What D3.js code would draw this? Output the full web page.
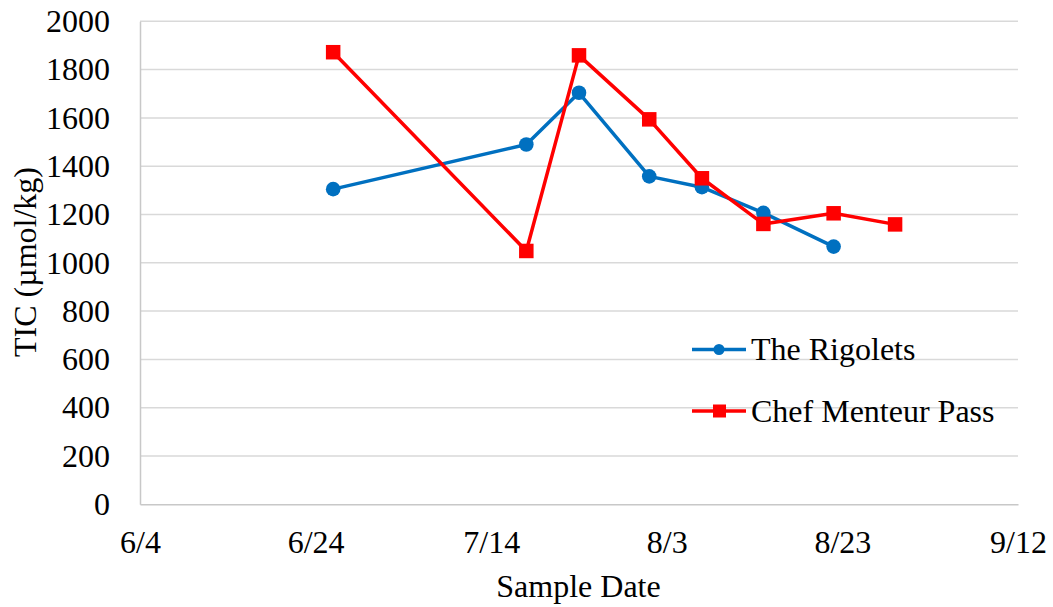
<!DOCTYPE html>
<html>
<head>
<meta charset="utf-8">
<script src="https://cdn.jsdelivr.net/npm/d3@7"></script>
<style>
  html, body { margin: 0; padding: 0; background: #fff; }
  svg, svg text { font-family: "Liberation Serif", "Times New Roman", serif; }
</style>
</head>
<body>
<svg id="chart" width="1053" height="607"></svg>
<script>
// Sample dates (2010) and TIC values, µmol/kg
const rigoletsDates = ["2010-06-26", "2010-07-18", "2010-07-24", "2010-08-01", "2010-08-07", "2010-08-14", "2010-08-22"];
const rigoletsTIC   = [1305, 1490, 1704, 1358, 1313, 1207, 1067];

const chefDates = ["2010-06-26", "2010-07-18", "2010-07-24", "2010-08-01", "2010-08-07", "2010-08-14", "2010-08-22", "2010-08-29"];
const chefTIC   = [1872, 1049, 1859, 1594, 1350, 1161, 1205, 1159];

const seriesNames = ["The Rigolets", "Chef Menteur Pass"];
const xTickDates = ["2010-06-04", "2010-06-24", "2010-07-14", "2010-08-03", "2010-08-23", "2010-09-12"];
const yTicks = [0, 200, 400, 600, 800, 1000, 1200, 1400, 1600, 1800, 2000];

const parse = d3.utcParse("%Y-%m-%d");
const fmt = d3.utcFormat("%-m/%-d");

const margin = { left: 140, right: 35, top: 21.3, bottom: 102.7 };
const W = 1053, H = 607;
const svg = d3.select("#chart");
const SERIF = '"Liberation Serif", "Times New Roman", serif';

const x = d3.scaleUtc()
  .domain([parse(xTickDates[0]), parse(xTickDates[xTickDates.length - 1])])
  .range([margin.left, W - margin.right]);
const y = d3.scaleLinear().domain([0, 2000]).range([H - margin.bottom, margin.top]);

const FS = 32;

// horizontal gridlines
svg.append("g")
  .selectAll("line")
  .data(yTicks.filter(v => v > 0))
  .join("line")
  .attr("x1", x.range()[0]).attr("x2", x.range()[1])
  .attr("y1", d => y(d)).attr("y2", d => y(d))
  .attr("stroke", "#d9d9d9").attr("stroke-width", 1.5);

// y axis
const yAxis = svg.append("g")
  .attr("transform", `translate(${margin.left},0)`)
  .call(d3.axisLeft(y).tickValues(yTicks).tickFormat(d3.format("d")).tickSize(0).tickPadding(30));
yAxis.style("font-family", SERIF).style("font-size", FS + "px");
yAxis.select(".domain").attr("stroke", "#c8c8c8").attr("stroke-width", 1.5);
yAxis.selectAll("text").attr("fill", "#000");

// x axis
const xAxis = svg.append("g")
  .attr("transform", `translate(0,${y(0)})`)
  .call(d3.axisBottom(x).tickValues(xTickDates.map(parse)).tickFormat(fmt).tickSize(0).tickPadding(26));
xAxis.style("font-family", SERIF).style("font-size", FS + "px");
xAxis.select(".domain").attr("stroke", "#c8c8c8").attr("stroke-width", 1.5);
xAxis.selectAll("text").attr("fill", "#000");

// axis titles
svg.append("text")
  .attr("x", 578.5).attr("y", 596.5)
  .attr("text-anchor", "middle").style("font-size", FS + "px")
  .text("Sample Date");
svg.append("text")
  .attr("transform", `translate(36,262) rotate(-90)`)
  .attr("text-anchor", "middle").style("font-size", FS + "px")
  .text("TIC (µmol/kg)");

const colors = ["#0070c0", "#ff0000"];
const line = d3.line().x(d => x(d.date)).y(d => y(d.v));

const rig = rigoletsDates.map((d, i) => ({ date: parse(d), v: rigoletsTIC[i] }));
const chef = chefDates.map((d, i) => ({ date: parse(d), v: chefTIC[i] }));

// The Rigolets
svg.append("path").datum(rig).attr("d", line)
  .attr("fill", "none").attr("stroke", colors[0]).attr("stroke-width", 3.5)
  .attr("stroke-linejoin", "round");
svg.append("g").selectAll("circle").data(rig).join("circle")
  .attr("cx", d => x(d.date)).attr("cy", d => y(d.v)).attr("r", 7.3)
  .attr("fill", colors[0]);

// Chef Menteur Pass
svg.append("path").datum(chef).attr("d", line)
  .attr("fill", "none").attr("stroke", colors[1]).attr("stroke-width", 3.5)
  .attr("stroke-linejoin", "round");
const sq = 14.5;
svg.append("g").selectAll("rect").data(chef).join("rect")
  .attr("x", d => x(d.date) - sq / 2).attr("y", d => y(d.v) - sq / 2)
  .attr("width", sq).attr("height", sq)
  .attr("fill", colors[1]);

// legend
const legendY = [349.5, 411];
seriesNames.forEach((name, i) => {
  const g = svg.append("g").attr("transform", `translate(692,${legendY[i]})`);
  g.append("line").attr("x1", 0).attr("x2", 54).attr("y1", 0).attr("y2", 0)
    .attr("stroke", colors[i]).attr("stroke-width", 3.5);
  if (i === 0) {
    g.append("circle").attr("cx", 27).attr("cy", 0).attr("r", 5.5).attr("fill", colors[i]);
  } else {
    g.append("rect").attr("x", 21).attr("y", -6.5).attr("width", 13).attr("height", 13).attr("fill", colors[i]);
  }
  g.append("text").attr("x", 59).attr("y", 0).attr("dy", "0.33em")
    .style("font-size", FS + "px").text(name);
});
</script>
</body>
</html>
